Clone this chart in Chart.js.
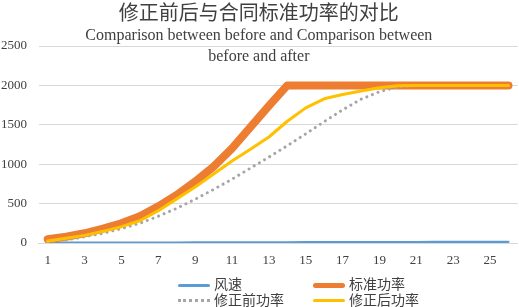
<!DOCTYPE html>
<html>
<head>
<meta charset="utf-8">
<script src="https://cdn.jsdelivr.net/npm/chart.js@4/dist/chart.umd.min.js"></script>
<style>
    body { margin: 0; background: #fff; }
    #wrap { position: relative; width: 519px; height: 307px; }
    #legend { position: absolute; left: 0; top: 276px; width: 519px; font-family: "Noto Sans CJK SC", sans-serif; font-size: 14px; color: #404040; }
    .item { position: absolute; height: 15px; line-height: 15px; white-space: nowrap; }
    .item .sw { display: inline-block; width: 32px; vertical-align: middle; margin-right: 4px; }
</style>
</head>
<body>
<div id="wrap">
    <canvas id="chart"></canvas>
    <div id="legend"></div>
</div>
<script>
// wind speed bins
var categories = ["1","2","3","4","5","6","7","8","9","10","11","12","13","14","15","16","17","18","19","20","21","22","23","24","25","26"];

var windSpeed = [3,3.5,4,4.5,5,5.5,6,6.5,7,7.5,8,8.5,9,9.5,10,10.5,11,11.5,12,12.5,13,13.5,14,14.5,15,15.5];
var standardPower = [47,80,123,182,250,340,465,610,780,970,1200,1470,1740,2000,2000,2000,2000,2000,2000,2000,2000,2000,2000,2000,2000,2000];
var beforePower = [13,38,80,123,182,250,340,440,555,680,810,950,1090,1235,1385,1540,1690,1825,1920,1980,2000,2000,2000,2000,2000,2000];
var afterPower = [25,59,97,148,207,283,410,560,710,875,1040,1190,1345,1545,1715,1830,1885,1930,1970,1995,2000,2000,2000,2000,2000,2000];

var yTicks = [0, 500, 1000, 1500, 2000, 2500];

var seriesNames = ["风速", "标准功率", "修正前功率", "修正后功率"];

var textColor = "#404040";
var gridColor = "#d9d9d9";

var chart = new Chart(document.getElementById("chart"), {
    type: "line",
    data: {
        labels: categories,
        datasets: [
            {
                label: seriesNames[0],
                data: windSpeed,
                borderColor: "#5B9BD5",
                borderWidth: 2.2,
                order: 4
            },
            {
                label: seriesNames[1],
                data: standardPower,
                borderColor: "#ED7D31",
                borderWidth: 8,
                order: 3
            },
            {
                label: seriesNames[2],
                data: beforePower,
                borderColor: "#A5A5A5",
                borderWidth: 3,
                borderDash: [0.01, 6],
                order: 2
            },
            {
                label: seriesNames[3],
                data: afterPower,
                borderColor: "#FFC000",
                borderWidth: 3,
                order: 1
            }
        ]
    },
    options: {
        responsive: true,
        maintainAspectRatio: false,
        animation: false,
        layout: { padding: { left: 0, right: 1.3, top: 0, bottom: 34 } },
        elements: {
            point: { radius: 0 },
            line: { tension: 0, borderCapStyle: "round", borderJoinStyle: "round", fill: false }
        },
        plugins: {
            legend: { display: false },
            tooltip: { enabled: false },
            title: {
                display: true,
                text: "修正前后与合同标准功率的对比",
                color: textColor,
                font: { family: "Noto Sans CJK SC", size: 20, weight: "normal", lineHeight: 1.2 },
                padding: { top: 0.5, bottom: 0 }
            },
            subtitle: {
                display: true,
                text: ["Comparison between before and Comparison between", "before and after"],
                color: textColor,
                font: { family: "Liberation Serif", size: 16, lineHeight: 1.3125 },
                padding: { top: 1, bottom: -21.5 }
            }
        },
        scales: {
            x: {
                offset: true,
                grid: { display: false, drawTicks: false },
                border: { display: true, color: gridColor },
                ticks: {
                    autoSkip: false,
                    maxRotation: 0,
                    padding: 10,
                    color: textColor,
                    font: { family: "Liberation Serif", size: 13 },
                    callback: function(value, index)
                    {
                        return index % 2 === 0 ? categories[index] : "";
                    }
                },
                afterFit: function(scale) { scale.height = 30; }
            },
            y: {
                min: yTicks[0],
                max: yTicks[yTicks.length - 1],
                grid: { color: gridColor, lineWidth: 1, drawTicks: false },
                border: { display: false },
                afterBuildTicks: function(scale)
                {
                    scale.ticks = yTicks.map(function(v) { return {value: v}; });
                },
                ticks: {
                    padding: 11.5,
                    color: textColor,
                    font: { family: "Liberation Serif", size: 13 },
                    callback: function(value) { return String(value); }
                },
                afterFit: function(scale) { scale.width = 38.5; }
            }
        }
    }
});

// two-column legend like the spreadsheet one
var legendPos = [[178, 0], [313, 0], [178, 15.5], [313, 15.5]];
var legendBox = document.getElementById("legend");
chart.data.datasets.forEach(function(ds, i)
{
    var item = document.createElement("div");
    item.className = "item";
    item.style.left = legendPos[i][0] + "px";
    item.style.top = legendPos[i][1] + "px";

    var sw = document.createElement("span");
    sw.className = "sw";
    if (ds.borderDash)
    {
        sw.style.borderTop = "3px dotted " + ds.borderColor;
    }
    else
    {
        var h = i === 1 ? 5 : 3;
        sw.style.height = h + "px";
        sw.style.borderRadius = h + "px";
        sw.style.background = ds.borderColor;
    }
    item.appendChild(sw);
    item.appendChild(document.createTextNode(ds.label));
    legendBox.appendChild(item);
});
</script>
</body>
</html>
